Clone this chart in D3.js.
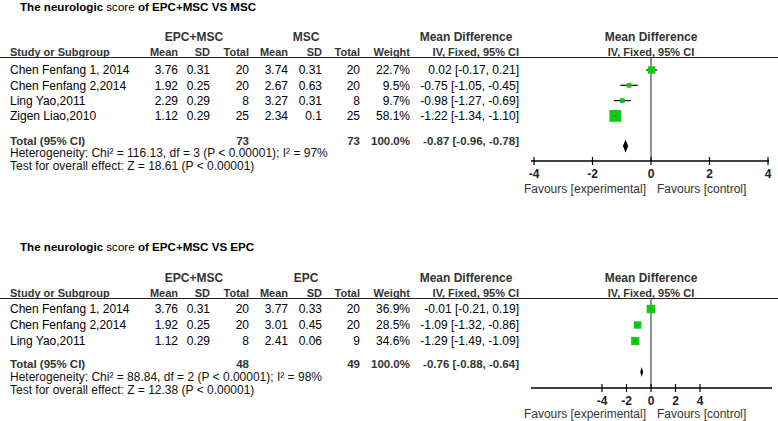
<!DOCTYPE html>
<html>
<head>
<meta charset="utf-8">
<script src="https://cdn.jsdelivr.net/npm/d3@7"></script>
<style>
  html, body { margin: 0; padding: 0; background: #fff; }
  svg { display: block; font-family: "Liberation Sans", Arial, Helvetica, sans-serif; }
</style>
</head>
<body>
<svg id="chart" width="778" height="421"></svg>
<script>
// ---------- Panel 1: EPC+MSC vs MSC ----------
const title1 = ["The neurologic", " score ", "of EPC+MSC VS MSC"];
const ctlLabel1 = "MSC";
const studies1 = ["Chen Fenfang 1, 2014", "Chen Fenfang 2,2014", "Ling Yao,2011", "Zigen Liao,2010"];
const expMean1 = [3.76, 1.92, 2.29, 1.12];
const expSD1 = [0.31, 0.25, 0.29, 0.29];
const expN1 = [20, 20, 8, 25];
const ctlMean1 = [3.74, 2.67, 3.27, 2.34];
const ctlSD1 = [0.31, 0.63, 0.31, 0.1];
const ctlN1 = [20, 20, 8, 25];
const weight1 = [22.7, 9.5, 9.7, 58.1];
const md1 = [0.02, -0.75, -0.98, -1.22];
const lo1 = [-0.17, -1.05, -1.27, -1.34];
const hi1 = [0.21, -0.45, -0.69, -1.10];
const total1 = [73, 73, 100.0, -0.87, -0.96, -0.78]; // expN, ctlN, weight, md, lo, hi
const het1 = "Heterogeneity: Chi\u00B2 = 116.13, df = 3 (P < 0.00001); I\u00B2 = 97%";
const test1 = "Test for overall effect: Z = 18.61 (P < 0.00001)";
const axisDomain1 = [-4, 4];
const ticks1 = [-4, -2, 0, 2, 4];

// ---------- Panel 2: EPC+MSC vs EPC ----------
const title2 = ["The neurologic", " score ", "of EPC+MSC VS EPC"];
const ctlLabel2 = "EPC";
const studies2 = ["Chen Fenfang 1, 2014", "Chen Fenfang 2,2014", "Ling Yao,2011"];
const expMean2 = [3.76, 1.92, 1.12];
const expSD2 = [0.31, 0.25, 0.29];
const expN2 = [20, 20, 8];
const ctlMean2 = [3.77, 3.01, 2.41];
const ctlSD2 = [0.33, 0.45, 0.06];
const ctlN2 = [20, 20, 9];
const weight2 = [36.9, 28.5, 34.6];
const md2 = [-0.01, -1.09, -1.29];
const lo2 = [-0.21, -1.32, -1.49];
const hi2 = [0.19, -0.86, -1.09];
const total2 = [48, 49, 100.0, -0.76, -0.88, -0.64];
const het2 = "Heterogeneity: Chi\u00B2 = 88.84, df = 2 (P < 0.00001); I\u00B2 = 98%";
const test2 = "Test for overall effect: Z = 12.38 (P < 0.00001)";
const axisDomain2 = [-10, 10];
const ticks2 = [-4, -2, 0, 2, 4];

const expLabel = "EPC+MSC";
const colHeaders = ["Mean", "SD", "Total", "Mean", "SD", "Total", "Weight"];
const favLeft = "Favours [experimental]";
const favRight = "Favours [control]";

// ---------- drawing ----------
const svg = d3.select("#chart");
const W = 778;
const colX = [178, 210, 249, 288, 322, 360, 410]; // right edges of numeric columns
const mdTextX = 519;
const FS = 12;
const HS = 11;
const fmt2 = v => v.toFixed(2);
const fmtW = v => v.toFixed(1) + "%";
const ciText = (m, l, h) => `${fmt2(m)} [${fmt2(l)}, ${fmt2(h)}]`;
const sizeScale = d3.scaleSqrt().domain([0, 60]).range([0, 12]);

function text(g, x, y, s, opts = {}) {
  return g.append("text")
    .attr("x", x).attr("y", y)
    .attr("font-size", opts.size || FS)
    .attr("font-weight", opts.bold ? "bold" : "normal")
    .attr("text-anchor", opts.anchor || "start")
    .attr("fill", opts.fill || "#000")
    .text(s);
}

function drawPanel(p) {
  const g = svg.append("g");
  // title
  const t = g.append("text").attr("x", 20).attr("y", p.titleY).attr("font-size", 11.6).attr("fill", "#000");
  t.append("tspan").attr("font-weight", "bold").text(p.title[0]);
  t.append("tspan").attr("font-weight", "normal").text(p.title[1]);
  t.append("tspan").attr("font-weight", "bold").text(p.title[2]);

  // group headers
  const hb = {bold: true, fill: "#333"};
  text(g, 194, p.groupY, expLabel, {...hb, anchor: "middle", size: 12});
  text(g, 306, p.groupY, p.ctlLabel, {...hb, anchor: "middle", size: 12});
  text(g, 466, p.groupY, "Mean Difference", {...hb, anchor: "middle", size: 12});
  text(g, 651, p.groupY, "Mean Difference", {...hb, anchor: "middle", size: 12});

  // column headers
  text(g, 10, p.headY, "Study or Subgroup", {...hb, size: HS});
  colHeaders.forEach((h, i) => text(g, colX[i], p.headY, h, {...hb, anchor: "end", size: HS}));
  text(g, mdTextX, p.headY, "IV, Fixed, 95% CI", {...hb, anchor: "end", size: HS});
  text(g, 651, p.headY, "IV, Fixed, 95% CI", {...hb, anchor: "middle", size: HS});

  // header rule
  g.append("line").attr("x1", 0).attr("x2", W).attr("y1", p.ruleY).attr("y2", p.ruleY)
    .attr("stroke", "#222").attr("stroke-width", 1.2);

  // rows
  const yRow = d3.scaleLinear().domain([0, 1]).range([p.row0, p.row0 + p.rowH]);
  const x = d3.scaleLinear().domain(p.domain).range(p.range);

  // zero line
  g.append("line").attr("x1", x(0)).attr("x2", x(0))
    .attr("y1", p.ruleY).attr("y2", p.axisY)
    .attr("stroke", "#555").attr("stroke-width", 1.3);

  p.studies.forEach((s, i) => {
    const y = yRow(i) + 4.3;
    text(g, 10, y, s);
    const vals = [String(p.expMean[i]), String(p.expSD[i]), String(p.expN[i]),
                  String(p.ctlMean[i]), String(p.ctlSD[i]), String(p.ctlN[i]), fmtW(p.weight[i])];
    vals.forEach((v, j) => text(g, colX[j], y, v, {anchor: "end"}));
    text(g, mdTextX, y, ciText(p.md[i], p.lo[i], p.hi[i]), {anchor: "end"});

    // CI line
    g.append("line").attr("x1", x(p.lo[i])).attr("x2", x(p.hi[i]))
      .attr("y1", yRow(i)).attr("y2", yRow(i)).attr("stroke", "#000").attr("stroke-width", 1.2);
    // square
    const sz = sizeScale(p.weight[i]) * p.sizeK;
    g.append("rect").attr("x", x(p.md[i]) - sz / 2).attr("y", yRow(i) - sz / 2)
      .attr("width", sz).attr("height", sz).attr("fill", "#14c814");
    g.append("circle").attr("cx", x(p.md[i])).attr("cy", yRow(i)).attr("r", 0.6).attr("fill", "#064");
  });

  // total row
  const tY = p.totalY + 4;
  const tb = {bold: true, fill: "#333", size: 11.5};
  text(g, 10, tY, "Total (95% CI)", tb);
  text(g, colX[2], tY, String(p.total[0]), {...tb, anchor: "end"});
  text(g, colX[5], tY, String(p.total[1]), {...tb, anchor: "end"});
  text(g, colX[6], tY, fmtW(p.total[2]), {...tb, anchor: "end"});
  text(g, mdTextX, tY, ciText(p.total[3], p.total[4], p.total[5]), {...tb, anchor: "end"});

  // diamond
  const dy = p.diamondY, dh = p.diamondH / 2;
  const pts = [[x(p.total[4]), dy], [x(p.total[3]), dy - dh], [x(p.total[5]), dy], [x(p.total[3]), dy + dh]];
  g.append("path").attr("d", d3.line()(pts) + "Z").attr("fill", "#000");

  text(g, 10, p.hetY + 4.3, p.het, {fill: "#111"});
  text(g, 10, p.testY + 4.3, p.test, {fill: "#111"});

  // axis
  const ag = g.append("g").attr("transform", `translate(0,${p.axisY})`);
  ag.append("line").attr("x1", p.axisExt[0]).attr("x2", p.axisExt[1]).attr("y1", 0).attr("y2", 0)
    .attr("stroke", "#000").attr("stroke-width", 1.3);
  ag.selectAll(".tk").data(p.ticks).join("line")
    .attr("x1", d => x(d)).attr("x2", d => x(d)).attr("y1", -4).attr("y2", 4)
    .attr("stroke", "#000").attr("stroke-width", 1.2);
  ag.selectAll(".tl").data(p.ticks).join("text")
    .attr("x", d => x(d)).attr("y", 17).attr("text-anchor", "middle")
    .attr("font-size", 12).attr("font-weight", "bold").attr("fill", "#222")
    .text(d => String(d));

  text(g, 646, p.favY + 4.3, favLeft, {anchor: "end", fill: "#333"});
  text(g, 657, p.favY + 4.3, favRight, {fill: "#333"});
}

drawPanel({
  title: title1, ctlLabel: ctlLabel1, studies: studies1,
  expMean: expMean1, expSD: expSD1, expN: expN1, ctlMean: ctlMean1, ctlSD: ctlSD1, ctlN: ctlN1,
  weight: weight1, md: md1, lo: lo1, hi: hi1, total: total1, het: het1, test: test1,
  domain: axisDomain1, range: [534, 768], axisExt: [531, 769], ticks: ticks1,
  titleY: 11, groupY: 41, headY: 56, ruleY: 57.5, row0: 70, rowH: 15.3,
  totalY: 141, diamondY: 146, diamondH: 13, hetY: 153, testY: 166,
  axisY: 161, favY: 189, sizeK: 1
});

drawPanel({
  title: title2, ctlLabel: ctlLabel2, studies: studies2,
  expMean: expMean2, expSD: expSD2, expN: expN2, ctlMean: ctlMean2, ctlSD: ctlSD2, ctlN: ctlN2,
  weight: weight2, md: md2, lo: lo2, hi: hi2, total: total2, het: het2, test: test2,
  domain: axisDomain2, range: [528.5, 773.5], axisExt: [531, 772], ticks: ticks2,
  titleY: 251, groupY: 282, headY: 297, ruleY: 298.5, row0: 309, rowH: 16,
  totalY: 364, diamondY: 372, diamondH: 10, hetY: 377, testY: 390,
  axisY: 388, favY: 414, sizeK: 0.9
});
</script>
</body>
</html>
